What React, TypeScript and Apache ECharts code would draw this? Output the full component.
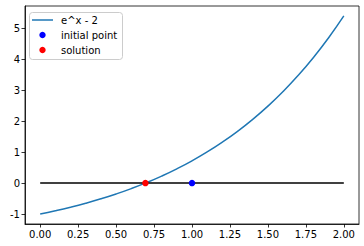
import React, { useEffect, useRef } from "react";
import * as echarts from "echarts";

const curveX = [0, 0.1, 0.2, 0.3, 0.4, 0.5, 0.6, 0.7, 0.8, 0.9, 1.0, 1.1, 1.2, 1.3, 1.4, 1.5, 1.6, 1.7, 1.8, 1.9, 2.0];
const curveY = [-1, -0.8948, -0.7786, -0.6501, -0.5082, -0.3513, -0.1779, 0.0138, 0.2255, 0.4596, 0.7183, 1.0042, 1.3201, 1.6693, 2.0552, 2.4817, 2.953, 3.4739, 4.0496, 4.6859, 5.3891];
const zeroLineX = [0, 2];
const zeroLineY = [0, 0];
const initialPoint = [1, 0];
const solutionPoint = [0.6931, 0];
const xTicks = [0, 0.25, 0.5, 0.75, 1.0, 1.25, 1.5, 1.75, 2.0];
const yTicks = [-1, 0, 1, 2, 3, 4, 5];
const legendNames = ["e^x - 2", "initial point", "solution"];

const FONT = "DejaVu Sans";

export default function App() {
  const ref = useRef<HTMLDivElement>(null);
  const overlayRef = useRef<HTMLDivElement>(null);
  useEffect(() => {
    const chart = echarts.init(ref.current!, null, { renderer: "svg" });
    chart.setOption({
      animation: false,
      backgroundColor: "#ffffff",
      textStyle: { fontFamily: FONT },
      grid: { left: 25, right: 5, top: 6, bottom: 22 },
      xAxis: {
        type: "value", min: -0.1, max: 2.1,
        splitLine: { show: false },
        axisLine: { show: true, onZero: false, lineStyle: { color: "#000", width: 0.8 } },
        axisTick: { show: true, length: 3.5, customValues: xTicks, lineStyle: { color: "#000", width: 0.8 } },
        axisLabel: {
          customValues: xTicks, margin: 5, color: "#000", fontSize: 10, fontFamily: FONT,
          formatter: (v: number) => v.toFixed(2),
        },
      },
      yAxis: {
        type: "value", min: -1.32, max: 5.71,
        splitLine: { show: false },
        axisLine: { show: true, onZero: false, lineStyle: { color: "#000", width: 0.8 } },
        axisTick: { show: true, length: 3.5, customValues: yTicks, lineStyle: { color: "#000", width: 0.8 } },
        axisLabel: {
          customValues: yTicks, margin: 5, color: "#000", fontSize: 10, fontFamily: FONT,
        },
      },
      series: [
        {
          name: legendNames[0], type: "line", smooth: true, showSymbol: false, symbol: "none",
          data: curveX.map((x, i) => [x, curveY[i]]),
          lineStyle: { color: "#1f77b4", width: 1.5 },
          itemStyle: { color: "#1f77b4" },
          z: 2,
        },
        {
          name: "zero", type: "line", showSymbol: false, symbol: "none",
          data: zeroLineX.map((x, i) => [x, zeroLineY[i]]),
          lineStyle: { color: "#000", width: 1.5 },
          z: 3,
        },
        {
          name: legendNames[1], type: "scatter", symbolSize: 6.5,
          data: [initialPoint], itemStyle: { color: "#0000ff", opacity: 1 }, z: 4,
        },
        {
          name: legendNames[2], type: "scatter", symbolSize: 6.5,
          data: [solutionPoint], itemStyle: { color: "#ff0000", opacity: 1 }, z: 4,
        },
      ],
    });

    const overlay = echarts.init(overlayRef.current!, null, { renderer: "svg" });
    const lt = { fontSize: 10, fontFamily: FONT, fill: "#000", verticalAlign: "middle", align: "left" };
    overlay.setOption({
      animation: false,
      graphic: [
        {
          type: "rect", shape: { x: 25, y: 6, width: 334, height: 218 },
          style: { fill: "none", stroke: "#000", lineWidth: 0.8 },
        },
        {
          type: "group",
          children: [
            {
              type: "rect", shape: { x: 29.5, y: 12.5, width: 93, height: 47, r: 3 },
              style: { fill: "rgba(255,255,255,0.8)", stroke: "#cccccc", lineWidth: 1 },
            },
            {
              type: "line", shape: { x1: 32, y1: 20, x2: 53, y2: 20 },
              style: { stroke: "#1f77b4", lineWidth: 1.5 },
            },
            { type: "circle", shape: { cx: 42.5, cy: 35, r: 3.2 }, style: { fill: "#0000ff" } },
            { type: "circle", shape: { cx: 42.5, cy: 50, r: 3.2 }, style: { fill: "#ff0000" } },
            { type: "text", x: 61, y: 20, style: { ...lt, text: legendNames[0] } },
            { type: "text", x: 61, y: 35, style: { ...lt, text: legendNames[1] } },
            { type: "text", x: 61, y: 50, style: { ...lt, text: legendNames[2] } },
          ],
        },
      ],
    });
    return () => {
      chart.dispose();
      overlay.dispose();
    };
  }, []);
  return (
    <div style={{ width: 364, height: 246, position: "absolute", left: 0, top: 0 }}>
      <div ref={ref} style={{ width: 364, height: 246, position: "absolute", left: 0, top: 0 }} />
      <div ref={overlayRef} style={{ width: 364, height: 246, position: "absolute", left: 0, top: 0, pointerEvents: "none" }} />
    </div>
  );
}
